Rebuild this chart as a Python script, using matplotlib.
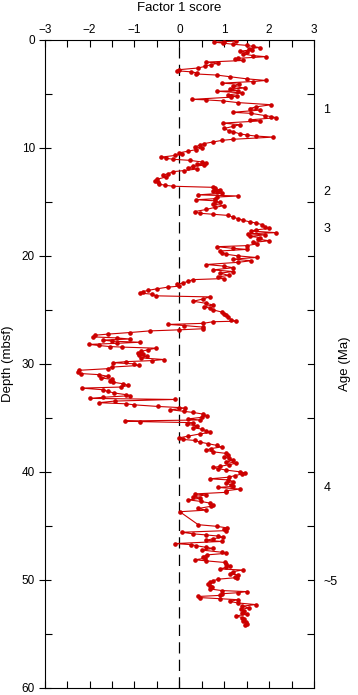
import numpy as np
import matplotlib
matplotlib.use("Agg")
import matplotlib.pyplot as plt
import matplotlib.transforms as mtransforms

plt.rcParams['font.family'] = ['Liberation Sans', 'DejaVu Sans']

# depth of each sample (mbsf)
depth_mbsf = [
    0.10, 0.15, 0.20, 0.30, 0.40, 0.50, 0.60, 0.70, 0.80, 0.90,
    1.05, 1.15, 1.30, 1.45, 1.55, 1.70, 1.80, 1.90, 2.05, 2.15,
    2.30, 2.45, 2.60, 2.75, 2.85, 2.95, 3.05, 3.15, 3.25,
    3.40, 3.60, 3.75, 3.85, 4.00, 4.10, 4.30, 4.45, 4.55, 4.70,
    4.75, 4.90, 5.10, 5.20, 5.30, 5.50, 5.55, 5.65, 5.80, 6.00,
    6.20, 6.35, 6.50, 6.70, 6.80, 7.00, 7.10, 7.20, 7.40, 7.50,
    7.70, 7.85, 8.00, 8.20, 8.40, 8.50, 8.70, 8.80, 8.90, 9.00,
    9.20, 9.30, 9.45, 9.60, 9.75, 9.90, 10.00, 10.15, 10.30, 10.45,
    10.55, 10.70, 10.85, 10.95, 11.05, 11.15, 11.30, 11.40, 11.50, 11.60,
    11.70, 11.85, 11.95, 12.10, 12.20, 12.40, 12.50, 12.70, 12.90, 13.05,
    13.20, 13.35, 13.45, 13.55,
    13.65, 13.75, 13.90, 14.00, 14.10, 14.20, 14.35, 14.45, 14.55, 14.70,
    14.80, 14.90, 15.05, 15.20, 15.35, 15.50, 15.70, 15.90, 16.05, 16.15,
    16.25, 16.40, 16.55, 16.70, 16.85, 16.95, 17.10, 17.30, 17.45, 17.60,
    17.70, 17.85, 17.95, 18.05, 18.20,
    18.30, 18.45, 18.60, 18.75, 18.90, 19.05, 19.15, 19.30, 19.40, 19.55,
    19.70, 19.85, 20.00, 20.15, 20.30, 20.45, 20.60, 20.80, 20.95, 21.10,
    21.30, 21.45, 21.60, 21.80, 21.95, 22.10, 22.20, 22.35, 22.50, 22.65,
    22.80, 22.90, 23.05, 23.20, 23.30, 23.45, 23.55, 23.70,
    23.80, 24.00, 24.20, 24.40, 24.55, 24.70, 24.85, 25.00, 25.20, 25.35,
    25.50, 25.70, 25.90, 26.05, 26.10, 26.25, 26.35, 26.45, 26.60, 26.75,
    26.85, 26.95,
    27.10, 27.25, 27.35, 27.50, 27.60, 27.70, 27.80, 27.90, 28.00, 28.10,
    28.20, 28.30, 28.40, 28.45, 28.55, 28.70, 28.85, 29.00, 29.10, 29.20,
    29.30, 29.45, 29.60, 29.70, 29.80, 29.90, 30.00, 30.15, 30.30, 30.45,
    30.60, 30.75, 30.90, 31.00, 31.15, 31.30, 31.45, 31.55, 31.70, 31.85,
    32.00, 32.15, 32.25, 32.40, 32.55, 32.70, 32.85, 32.95, 33.10, 33.20,
    33.30,
    33.45, 33.60, 33.70, 33.80, 33.95, 34.05, 34.10, 34.25, 34.40, 34.50,
    34.65, 34.80, 34.95, 35.10, 35.20, 35.30, 35.35, 35.45, 35.60, 35.75,
    35.90, 36.05, 36.20, 36.35, 36.50, 36.70, 36.85, 37.00,
    37.10, 37.25, 37.40, 37.55, 37.70, 37.85, 38.00, 38.15, 38.30, 38.45,
    38.60, 38.75, 38.90, 39.05, 39.20, 39.35, 39.50, 39.60, 39.70, 39.85,
    40.00, 40.10, 40.20, 40.35, 40.50, 40.65, 40.75, 40.90, 41.05, 41.20,
    41.35, 41.45, 41.60, 41.75, 41.90, 42.05, 42.15, 42.30, 42.45, 42.60,
    42.75, 42.90, 43.05, 43.20, 43.40, 43.55, 43.70,
    44.90, 45.05, 45.20, 45.30, 45.45, 45.60, 45.75, 45.85, 45.95, 46.05,
    46.20, 46.35, 46.45, 46.65, 46.75, 46.85, 47.00, 47.10, 47.25, 47.45,
    47.55, 47.70, 47.85, 48.00, 48.15, 48.25, 48.40, 48.55, 48.70, 48.85,
    49.00, 49.10, 49.25, 49.45, 49.55, 49.70, 49.80, 49.95, 50.10, 50.25,
    50.40, 50.55, 50.70, 50.85, 51.00, 51.10, 51.20, 51.30, 51.45, 51.55,
    51.65, 51.75, 51.85, 52.00, 52.15, 52.30, 52.45, 52.60, 52.75, 52.90,
    53.05, 53.20, 53.35, 53.50, 53.65, 53.80, 53.95, 54.10, 54.20,
]

# factor 1 score at each depth
factor1_score = [
    1.27, 1.00, 0.77, 0.98, 1.20, 1.50, 1.65, 1.79, 1.55, 1.62,
    1.35, 1.50, 1.42, 1.64, 1.93, 1.30, 1.24, 1.42, 0.60, 0.86,
    0.70, 0.57, 0.41, 0.00, -0.06, 0.25, 0.40, 0.38, 0.83,
    1.12, 1.50, 1.93, 1.65, 0.94, 1.34, 1.20, 1.46, 1.12, 1.30,
    0.83, 1.40, 1.08, 1.28, 1.15, 0.29, 0.60, 0.98, 1.30, 2.05,
    1.70, 1.57, 1.79, 1.19, 1.60, 1.90, 2.05, 2.16, 1.57, 1.80,
    0.97, 1.35, 1.20, 1.00, 1.10, 1.20, 1.35, 1.50, 1.70, 2.09,
    1.20, 0.95, 0.75, 0.55, 0.45, 0.35, 0.50, 0.38, 0.20, 0.00,
    0.05, -0.10, -0.40, -0.30, -0.15, 0.23, 0.50, 0.60, 0.40, 0.55,
    0.30, 0.20, 0.40, 0.10, -0.14, -0.25, -0.36, -0.30, -0.50, -0.55,
    -0.48, -0.45, -0.33, -0.14,
    0.75, 0.80, 0.90, 0.75, 0.85, 0.95, 0.41, 1.31, 0.85, 0.80,
    0.38, 0.80, 0.90, 0.75, 1.00, 0.80, 0.60, 0.34, 0.45, 0.75,
    1.08, 1.19, 1.30, 1.42, 1.57, 1.70, 1.84, 1.90, 2.00, 1.70,
    1.60, 2.16, 1.53, 1.90, 1.57,
    1.80, 1.75, 2.00, 1.65, 1.72, 1.50, 0.83, 1.20, 1.50, 0.90,
    0.95, 1.05, 1.30, 1.72, 1.20, 1.60, 1.30, 0.60, 1.00, 1.20,
    0.75, 1.20, 0.90, 1.10, 0.87, 1.00, 0.30, 0.20, 0.09, -0.06,
    0.00, -0.26, -0.50, -0.70, -0.81, -0.88, -0.60, -0.53,
    0.68, 0.52, 0.31, 0.60, 0.75, 0.55, 0.68, 0.75, 0.94, 1.00,
    1.05, 1.09, 1.15, 1.27, 0.75, 0.53, -0.25, 0.10, 0.53, 0.53,
    0.00, -0.66,
    -1.10, -1.60, -1.88, -1.93, -1.40, -1.10, -1.70, -1.50, -0.88, -1.40,
    -2.01, -1.80, -1.55, -1.27, -0.52, -0.70, -0.85, -0.92, -0.80, -0.90,
    -0.73, -0.85, -0.35, -0.60, -1.20, -1.48, -1.00, -0.90, -1.50, -1.60,
    -2.24, -2.26, -2.20, -1.80, -1.60, -1.75, -1.50, -1.55, -1.48, -1.25,
    -1.14, -1.30, -2.18, -1.70, -1.60, -1.45, -1.20, -1.10, -1.70, -2.00,
    -0.10,
    -1.44, -1.80, -1.20, -1.00, -0.47, 0.00, 0.12, -0.20, 0.10, 0.30,
    0.52, 0.61, 0.50, 0.20, 0.45, -1.21, -0.88, 0.30, 0.16, 0.40,
    0.30, 0.50, 0.60, 0.68, 0.45, 0.20, 0.00, 0.08,
    0.35, 0.46, 0.64, 0.83, 0.94, 0.70, 0.60, 0.75, 1.05, 1.09,
    1.00, 1.10, 1.20, 1.05, 1.27, 1.10, 0.90, 0.75, 0.86, 1.05,
    1.35, 1.46, 1.40, 1.24, 1.10, 0.68, 1.09, 1.20, 1.05, 1.15,
    1.20, 0.86, 1.35, 1.05, 1.05, 0.35, 0.60, 0.31, 0.46, 0.20,
    0.49, 0.68, 0.75, 0.70, 0.42, 0.60, 0.01,
    0.42, 0.83, 1.07, 1.00, 1.05, 0.06, 0.31, 0.60, 0.86, 0.98,
    0.75, 0.60, 0.94, -0.10, 0.27, 0.38, 0.60, 0.75, 0.50, 0.94,
    1.05, 0.61, 0.53, 0.58, 0.35, 0.60, 1.01, 1.05, 1.12, 1.05,
    0.90, 1.41, 1.20, 1.12, 1.31, 1.24, 1.28, 0.86, 0.75, 0.68,
    0.64, 0.68, 0.72, 0.68, 0.94, 1.50, 1.31, 0.94, 0.90, 0.42,
    0.45, 0.90, 1.31, 1.12, 1.30, 1.70, 1.40, 1.55, 1.38, 1.45,
    1.40, 1.50, 1.26, 1.40, 1.45, 1.42, 1.48, 1.50, 1.46,
]

# age (Ma) markers on the right side
age_labels = ["1", "2", "3", "4", "~5"]
age_depths = [6.5, 14.1, 17.5, 41.5, 50.2]

fig = plt.figure(figsize=(3.58, 6.95), dpi=100)
ax = fig.add_axes([0.125, 0.0105, 0.752, 0.932])

ax.plot(factor1_score, depth_mbsf, color="#cc0000", lw=0.8,
        marker="o", ms=2.3, mfc="#cc0000", mec="#cc0000", zorder=3)
ax.axvline(0, color="black", lw=0.9, ls=(0, (9, 5)), zorder=2)

ax.set_xlim(-3, 3)
ax.set_ylim(60, 0)

# x axis on top
ax.xaxis.tick_top()
ax.set_xticks(np.arange(-3, 4, 1))
ax.set_xticks(np.arange(-2.5, 3, 1), minor=True)
ax.tick_params(axis="x", which="both", direction="in", top=True, bottom=True,
               length=5, width=0.8, labelsize=8.5, pad=3)
ax.text(0.5, 1.049, "Factor 1 score", transform=ax.transAxes,
        ha="center", va="center", fontsize=9.5)

# depth axis
ax.set_yticks(np.arange(0, 61, 10))
ax.set_yticks(np.arange(5, 60, 10), minor=True)
ax.tick_params(axis="y", which="major", direction="inout", left=True, right=False,
               length=8, width=0.8, labelsize=8.5, pad=3)
ax.tick_params(axis="y", which="minor", direction="in", left=True, right=True,
               length=5, width=0.8)
ax.text(-0.136, 0.5, "Depth (mbsf)", transform=ax.transAxes, rotation=90,
        ha="center", va="center", fontsize=9.5)

# right side major ticks (inward only)
for d in np.arange(10, 60, 10):
    ax.plot([1, 0.978], [d, d], color="black", lw=0.8,
            transform=mtransforms.blended_transform_factory(ax.transAxes, ax.transData),
            clip_on=False)

trans = mtransforms.blended_transform_factory(ax.transAxes, ax.transData)
for lab, d in zip(age_labels, age_depths):
    ax.text(1.035, d, lab, transform=trans, ha="left", va="center", fontsize=9)
ax.text(1.115, 0.5, "Age (Ma)", transform=ax.transAxes, rotation=90,
        ha="center", va="center", fontsize=9.5)

for s in ax.spines.values():
    s.set_linewidth(0.8)

fig.savefig("out.png", dpi=100)
